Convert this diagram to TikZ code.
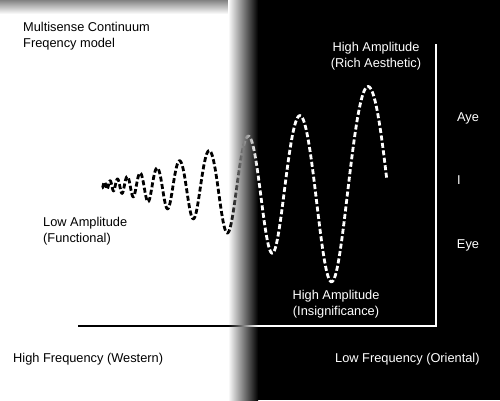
\documentclass[tikz,border=0pt]{standalone}
\usepackage{fontspec}
\setmainfont{Liberation Sans}
\usepackage{tikz}
\definecolor{edgegray}{RGB}{130,130,130}
\definecolor{inkblack}{RGB}{0,0,0}
\definecolor{inkwhite}{RGB}{255,255,255}

\begin{document}
\begin{tikzpicture}[x=1pt, y=-1pt,
    every node/.style={inner sep=0pt, font=\fontsize{12.8}{16}\selectfont},
    wave/.style={inkwhite, line width=2.8pt, dash pattern=on 5pt off 2.5pt},
    axis/.style={inkwhite, line width=1.8pt}]
    \useasboundingbox (0,0) rectangle (500,400);

    % Fond : blanc a gauche, noir a droite
    \fill[inkwhite] (0,0) rectangle (500,400);
    \shade[top color=edgegray, bottom color=inkwhite] (0,0) rectangle (240,14);
    \shade[left color=inkwhite, right color=inkblack] (228,0) rectangle (258,400);
    \fill[inkblack] (258,0) rectangle (500,400);

    % Titre
    \node[anchor=north west, align=left, inkblack] (title) at (23,22.5) {Multisense Continuum\\Freqency model};

    % Axes
    \coordinate (xstart) at (78,326);
    \coordinate (origin) at (436,326);
    \coordinate (ytop) at (436,44);
    \begin{scope}[blend mode=difference]
        \draw[axis] (xstart) -- (origin) -- (ytop);
        % Onde
        \draw[wave] plot[domain=-4.5:6.25, samples=700]
            ({87+53*1.32^\x}, {185-12*1.42^(\x+0.225*(1-cos(360*\x)))*cos(360*\x)});
    \end{scope}

    % Amplitudes
    \node[anchor=north, align=center, inkwhite] (richamp) at (376,42) {High Amplitude\\(Rich Aesthetic)};
    \node[anchor=north west, align=left, inkblack] (lowamp) at (43,217) {Low Amplitude\\(Functional)};
    \node[anchor=north, align=center, inkwhite] (insigamp) at (336,290) {High Amplitude\\(Insignificance)};

    % Echelle verticale
    \node[anchor=base, inkwhite] (aye) at (468,121) {Aye};
    \node[anchor=base, inkwhite] (ii) at (459,184) {I};
    \node[anchor=base, inkwhite] (eye) at (468,248) {Eye};

    % Frequences
    \node[anchor=base west, inkblack] (western) at (13,362) {High Frequency (Western)};
    \node[anchor=base west, inkwhite] (oriental) at (335,362) {Low Frequency (Oriental)};
\end{tikzpicture}
\end{document}
